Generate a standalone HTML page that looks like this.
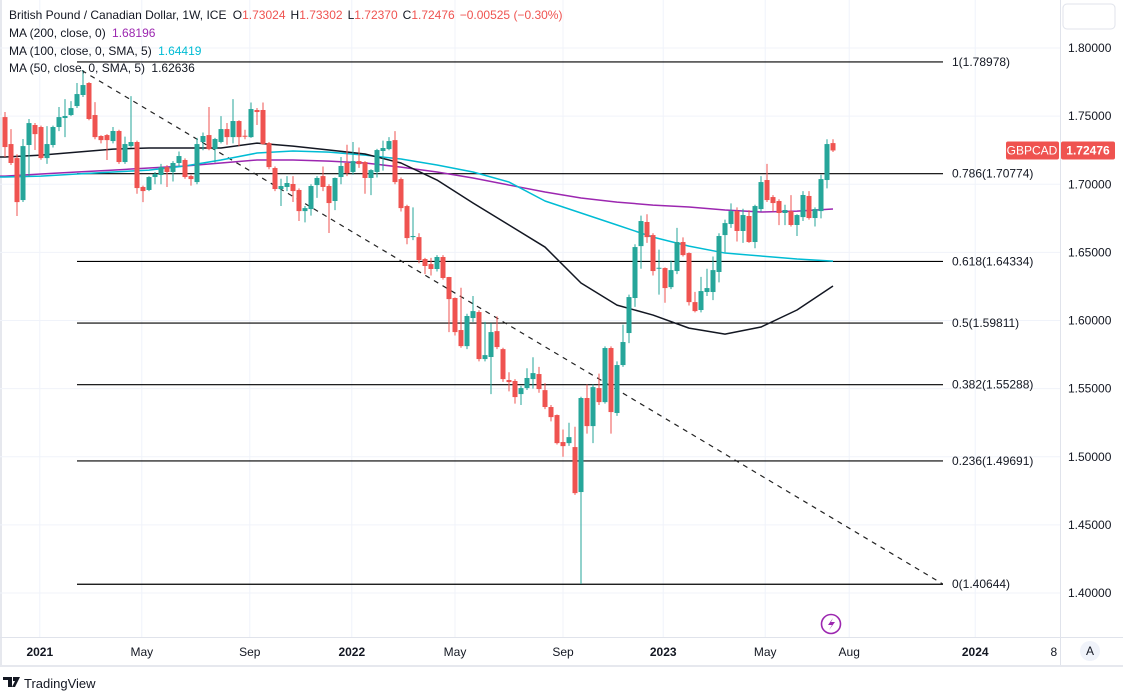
<!DOCTYPE html>
<html><head><meta charset="utf-8"><style>
html,body{margin:0;padding:0;background:#fff;width:1123px;height:695px;overflow:hidden;font-family:"Liberation Sans",sans-serif}
svg text{font-family:"Liberation Sans",sans-serif}
</style></head><body>
<svg id="chart" width="1123" height="695" xmlns="http://www.w3.org/2000/svg">
<rect x="0" y="0" width="1123" height="695" fill="#fff"/>
<rect x="0" y="0" width="2" height="667" fill="#e6e8ee"/>
<g id="grid"></g>
<g id="fib"></g>
<g id="mas"></g>
<g id="candles"></g>
<g id="axes"></g>
<g font-size="12" fill="#131722">
<text x="9" y="19">British Pound / Canadian Dollar, 1W, ICE <tspan dx="3">O</tspan><tspan fill="#ef5350">1.73024</tspan><tspan dx="5">H</tspan><tspan fill="#ef5350">1.73302</tspan><tspan dx="5">L</tspan><tspan fill="#ef5350">1.72370</tspan><tspan dx="5">C</tspan><tspan fill="#ef5350">1.72476</tspan><tspan dx="5" fill="#ef5350">−0.00525 (−0.30%)</tspan></text>
<text x="9" y="37">MA (200, close, 0) <tspan dx="3" fill="#9c27b0">1.68196</tspan></text>
<text x="9" y="55">MA (100, close, 0, SMA, 5) <tspan dx="3" fill="#00bcd4">1.64419</tspan></text>
<text x="9" y="72">MA (50, close, 0, SMA, 5) <tspan dx="3">1.62636</tspan></text>
</g>
<rect x="1063" y="4" width="52" height="25" rx="4" fill="#fff" stroke="#e0e3eb"/>
<g><circle cx="831" cy="624" r="9.5" fill="none" stroke="#9c27b0" stroke-width="1.6"/><path d="M833 618 L828 625 L832 625 L829 630 L835 622 L831 622 Z" fill="#9c27b0"/></g>
<g><circle cx="1090" cy="651" r="10" fill="#f0f3fa"/><text x="1090" y="655" font-size="12" text-anchor="middle" fill="#131722">A</text></g>
<g><path d="M3 677 h9 v10 h-4 v-7 h-5 z" fill="#131722"/><path d="M13 677 h7 l-5 10 h-3 l3 -6 h-2 z" fill="#131722"/><text x="24" y="688" font-size="13" fill="#131722">TradingView</text></g>
</svg>
<script>
const opens=[1.7493,1.7295,1.7192,1.6884,1.7288,1.7435,1.7420,1.7192,1.7288,1.7420,1.7486,1.7508,1.7574,1.7655,1.7743,1.7508,1.7354,1.7361,1.7317,1.7391,1.7163,1.7280,1.7310,1.6980,1.6958,1.7053,1.7068,1.7126,1.7090,1.7156,1.7178,1.7060,1.7016,1.7310,1.7361,1.7258,1.7310,1.7405,1.7346,1.7464,1.7356,1.7346,1.7545,1.7545,1.7302,1.7119,1.6965,1.6980,1.7002,1.6958,1.6803,1.6818,1.6994,1.7060,1.6987,1.6877,1.7053,1.7156,1.7090,1.7170,1.7163,1.7046,1.7090,1.7244,1.7258,1.7324,1.7038,1.6840,1.6612,1.6612,1.6451,1.6414,1.6378,1.6466,1.6319,1.6165,1.5930,1.5812,1.6018,1.6062,1.5717,1.5732,1.5922,1.5790,1.5563,1.5556,1.5460,1.5504,1.5570,1.5607,1.5489,1.5365,1.5306,1.5108,1.5100,1.5071,1.4741,1.5431,1.5225,1.5504,1.5401,1.5798,1.5321,1.5673,1.5908,1.6165,1.6546,1.6723,1.6627,1.6380,1.6385,1.6245,1.6363,1.6576,1.6495,1.6135,1.6077,1.6209,1.6209,1.6356,1.6627,1.6708,1.6803,1.6657,1.6767,1.6576,1.6818,1.7031,1.6906,1.6877,1.6789,1.6803,1.6701,1.6759,1.6914,1.6752,1.6803,1.7031,1.7302];
const closes=[1.7273,1.7156,1.6869,1.7280,1.7449,1.7368,1.7192,1.7295,1.7420,1.7493,1.7501,1.7559,1.7662,1.7728,1.7479,1.7346,1.7324,1.7324,1.7391,1.7163,1.7295,1.7310,1.6972,1.6950,1.7053,1.7075,1.7126,1.7090,1.7156,1.7207,1.7053,1.7038,1.7295,1.7354,1.7258,1.7332,1.7405,1.7346,1.7464,1.7346,1.7352,1.7552,1.7530,1.7295,1.7126,1.6965,1.6987,1.7009,1.6950,1.6803,1.6825,1.6987,1.7046,1.6980,1.6862,1.7046,1.7134,1.7082,1.7170,1.7148,1.7046,1.7104,1.7251,1.7266,1.7317,1.7016,1.6825,1.6605,1.6620,1.6444,1.6400,1.6378,1.6466,1.6312,1.6157,1.5915,1.5812,1.6033,1.6069,1.5717,1.5746,1.5915,1.5805,1.5570,1.5548,1.5438,1.5504,1.5578,1.5614,1.5497,1.5365,1.5291,1.5100,1.5078,1.5144,1.4733,1.5431,1.5225,1.5511,1.5401,1.5798,1.5328,1.5673,1.5842,1.6172,1.6539,1.6730,1.6612,1.6363,1.6387,1.6238,1.6370,1.6576,1.6480,1.6135,1.6069,1.6216,1.6238,1.6370,1.6620,1.6715,1.6803,1.6657,1.6774,1.6576,1.6840,1.7016,1.6884,1.6862,1.6789,1.6811,1.6701,1.6774,1.6921,1.6752,1.6818,1.7038,1.7295,1.7248];
const highs=[1.7530,1.7405,1.7220,1.7332,1.7479,1.7450,1.7430,1.7427,1.7430,1.7567,1.7625,1.7610,1.7743,1.7838,1.7750,1.7603,1.7360,1.7368,1.7420,1.7400,1.7350,1.7647,1.7320,1.6990,1.7060,1.7090,1.7150,1.7140,1.7170,1.7240,1.7190,1.7070,1.7340,1.7380,1.7567,1.7340,1.7500,1.7450,1.7625,1.7470,1.7400,1.7600,1.7560,1.7600,1.7310,1.7130,1.7040,1.7060,1.7060,1.6970,1.6840,1.7000,1.7060,1.7130,1.7000,1.7050,1.7200,1.7290,1.7310,1.7270,1.7170,1.7110,1.7260,1.7320,1.7346,1.7390,1.7050,1.6850,1.6830,1.6640,1.6460,1.6460,1.6480,1.6480,1.6320,1.6170,1.6240,1.6050,1.6180,1.6075,1.5990,1.5980,1.6030,1.5800,1.5620,1.5570,1.5520,1.5650,1.5730,1.5660,1.5540,1.5380,1.5310,1.5200,1.5250,1.5220,1.5440,1.5530,1.5530,1.5610,1.5810,1.5810,1.5700,1.5970,1.6190,1.6560,1.6770,1.6780,1.6640,1.6520,1.6390,1.6440,1.6680,1.6610,1.6500,1.6210,1.6320,1.6380,1.6470,1.6640,1.6740,1.6860,1.6830,1.6820,1.6810,1.6850,1.7060,1.7150,1.6920,1.6890,1.6850,1.6920,1.6780,1.6950,1.6950,1.6830,1.7070,1.7330,1.7330];
const lows=[1.7200,1.7141,1.6767,1.6870,1.7053,1.7251,1.7180,1.7150,1.7270,1.7390,1.7346,1.7500,1.7560,1.7640,1.7470,1.7330,1.7300,1.7178,1.7300,1.7150,1.7150,1.7270,1.6930,1.6869,1.6950,1.7000,1.7000,1.6980,1.7020,1.7130,1.7040,1.6990,1.7000,1.7250,1.7250,1.7160,1.7300,1.7290,1.7300,1.7280,1.7330,1.7340,1.7435,1.7290,1.7110,1.6950,1.6840,1.6950,1.6870,1.6730,1.6720,1.6770,1.6900,1.6950,1.6642,1.6810,1.7000,1.7060,1.7070,1.7120,1.6930,1.6920,1.7050,1.7100,1.7250,1.7000,1.6800,1.6560,1.6590,1.6420,1.6340,1.6330,1.6360,1.6300,1.5915,1.5890,1.5800,1.5790,1.5990,1.5700,1.5700,1.5460,1.5790,1.5550,1.5480,1.5390,1.5380,1.5490,1.5500,1.5470,1.5350,1.5260,1.5090,1.5000,1.5080,1.4720,1.4066,1.5170,1.5100,1.5380,1.5390,1.5170,1.5300,1.5660,1.5834,1.6100,1.6380,1.6570,1.6330,1.6190,1.6130,1.6230,1.6340,1.6470,1.6110,1.6060,1.6060,1.6180,1.6150,1.6280,1.6500,1.6680,1.6580,1.6570,1.6570,1.6530,1.6800,1.6870,1.6800,1.6700,1.6700,1.6690,1.6620,1.6730,1.6740,1.6690,1.6750,1.6970,1.7237];
// moving averages sampled every 6 weeks (index 0,6,...,138)
const ma50=[1.7200,1.7214,1.7236,1.7258,1.7266,1.7266,1.7266,1.7302,1.7280,1.7251,1.7222,1.7156,1.7031,1.6862,1.6701,1.6539,1.6275,1.6113,1.6040,1.5944,1.5900,1.5952,1.6077,1.6253];
const ma100=[1.7053,1.7060,1.7075,1.7090,1.7104,1.7134,1.7178,1.7229,1.7244,1.7236,1.7214,1.7185,1.7141,1.7090,1.7016,1.6877,1.6789,1.6701,1.6612,1.6546,1.6495,1.6473,1.6451,1.6436];
const ma200=[1.7060,1.7075,1.7090,1.7104,1.7119,1.7134,1.7156,1.7178,1.7178,1.7170,1.7156,1.7126,1.7090,1.7046,1.6994,1.6943,1.6899,1.6869,1.6847,1.6833,1.6811,1.6796,1.6803,1.6818];
const priceTicks=[1.80,1.75,1.70,1.65,1.60,1.55,1.50,1.45,1.40];
const timeTickIdx=[5.8,22.8,40.8,57.8,75,93,109.7,126.7,140.7,161.7,174.8];
const timeTickLabels=['2021','May','Sep','2022','May','Sep','2023','May','Aug','2024','8'];
const fibRatios=['1','0.786','0.618','0.5','0.382','0.236','0'];
const fibPrices=[1.78978,1.70774,1.64334,1.59811,1.55288,1.49691,1.40644];
const trendStart=[12.8,1.7835], trendEnd=[156.3,1.4066];
const last=1.72476;

const NS='http://www.w3.org/2000/svg';
const X=i=>5+6*i;
const Y=p=>48+(1.80-p)*1362.5;
function mk(tag,attrs,parent){const e=document.createElementNS(NS,tag);for(const k in attrs)e.setAttribute(k,attrs[k]);parent.appendChild(e);return e;}
const grid=document.getElementById('grid'),axes=document.getElementById('axes'),fib=document.getElementById('fib'),mas=document.getElementById('mas'),cg=document.getElementById('candles');

priceTicks.forEach(p=>{
  const l=mk('line',{x1:0,x2:1060,y1:Y(p),y2:Y(p),stroke:'#f0f3fa','stroke-width':1},grid);
  
  
  const t=mk('text',{x:1068,y:Y(p)+4,'font-size':12,fill:'#131722'},axes);
  t.textContent=p.toFixed(5);
  
  
});
timeTickIdx.forEach((ix,k)=>{
  const x=X(ix);
  if(k<timeTickIdx.length-1){
    const l=mk('line',{x1:x,x2:x,y1:0,y2:637,stroke:'#f0f3fa','stroke-width':1},grid);
    
    
  }
  const lab=timeTickLabels[k];
  const bold=/^\d{4}$/.test(lab);
  const t=mk('text',{x:x,y:656,'font-size':12,'text-anchor':'middle',fill:'#131722','font-weight':bold?'bold':'normal'},axes);
  t.textContent=lab;
  
  
});
mk('line',{x1:1060.5,x2:1060.5,y1:0,y2:665,stroke:'#e0e3eb'},axes);
mk('line',{x1:0,x2:1123,y1:637.5,y2:637.5,stroke:'#e0e3eb'},axes);
mk('rect',{x:0,y:665,width:1123,height:2,fill:'#e6e8ee'},axes);
mk('rect',{x:1061,y:638,width:62,height:27,fill:'#fff'},axes);

fibPrices.forEach((p,k)=>{
  const l=mk('line',{x1:77,x2:943,y1:Y(p),y2:Y(p),stroke:'#000','stroke-width':1.2},fib);
  
  
  const t=mk('text',{x:952,y:Y(p)+4,'font-size':12,fill:'#131722'},fib);
  t.textContent=fibRatios[k]+'('+p.toFixed(5)+')';
  
  
});
const tl=mk('line',{x1:X(trendStart[0]),y1:Y(trendStart[1]),x2:X(trendEnd[0]),y2:Y(trendEnd[1]),stroke:'#222','stroke-width':1.2,'stroke-dasharray':'5,5'},fib);



function maLine(arr,color,name){
  const pts=arr.map((v,k)=>X(k*6)+','+Y(v)).join(' ');
  const pl=mk('polyline',{points:(0)+','+Y(arr[0])+' '+pts,fill:'none',stroke:color,'stroke-width':1.5,'stroke-linejoin':'round'},mas);
  
  
}
maLine(ma200,'#9c27b0','ma200-line');
maLine(ma100,'#00bcd4','ma100-line');
maLine(ma50,'#131722','ma50-line');

opens.forEach((o,i)=>{
  const c=closes[i],up=c>=o,col=up?'#26a69a':'#ef5350',x=X(i);
  const g=mk('g',{},cg);
  
  
  mk('line',{x1:x,x2:x,y1:Y(highs[i]),y2:Y(lows[i]),stroke:col,'stroke-width':1},g);
  const top=Y(Math.max(o,c)),bot=Y(Math.min(o,c));
  mk('rect',{x:x-2.5,y:top,width:5,height:Math.max(1,bot-top),fill:col},g);
});

const ly=Y(last);
const b1=mk('rect',{x:1006,y:ly-9,width:53,height:18,rx:2,fill:'#ef5350'},axes);


const t1=mk('text',{x:1032,y:ly+4,'font-size':12,'text-anchor':'middle',fill:'#fff'},axes);t1.textContent='GBPCAD';
const b2=mk('rect',{x:1061,y:ly-9,width:54,height:18,rx:2,fill:'#ef5350'},axes);


const t2=mk('text',{x:1088,y:ly+4,'font-size':12,'text-anchor':'middle',fill:'#fff','font-weight':'bold'},axes);t2.textContent=last.toFixed(5);
</script>
</body></html>
